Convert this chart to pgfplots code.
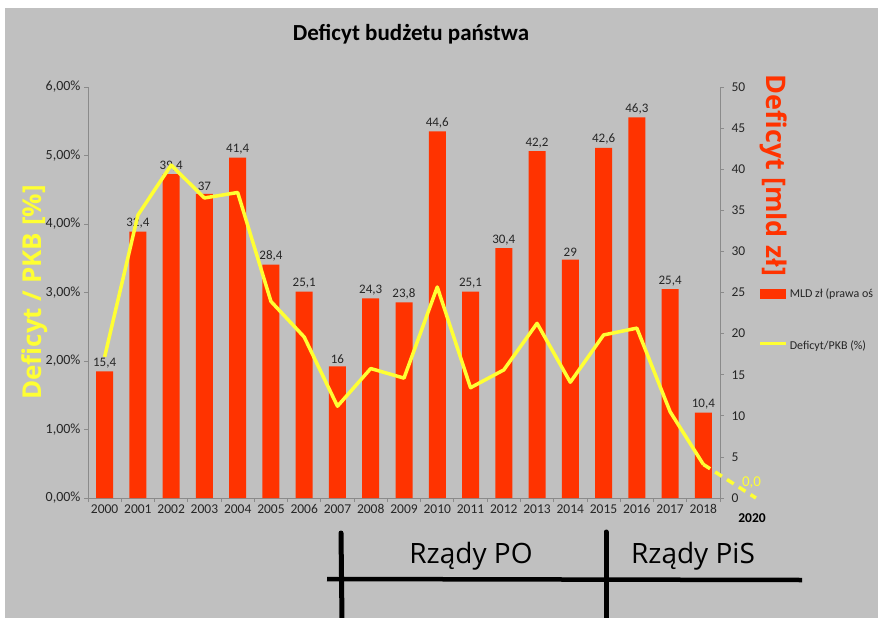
\documentclass[border=0pt]{standalone}
\usepackage{pgfplots}
\pgfplotsset{compat=1.18}
\usepackage{fontspec}
\setmainfont{Carlito}
\newfontfamily\handfont{Open Sans}
\newfontfamily\labfont{Open Sans}
\definecolor{bg}{HTML}{C0C0C0}
\definecolor{barred}{HTML}{FF3300}
\definecolor{lineyel}{HTML}{FFFF33}
\definecolor{axgrey}{HTML}{8A8A8A}
\definecolor{txt}{HTML}{262626}
\begin{document}
\begin{tikzpicture}
\fill[white] (0pt,0pt) rectangle (878pt,-618pt);
\fill[bg] (5pt,-8pt) rectangle (878pt,-618pt);
\useasboundingbox (0pt,0pt) rectangle (878pt,-618pt);

% bars on the right axis
\begin{axis}[
  at={(88pt,-498pt)}, anchor=south west,
  scale only axis, width=632pt, height=411pt,
  xmin=-0.5, xmax=18.5, ymin=0, ymax=50,
  axis y line*=right, axis x line*=bottom,
  axis line style={axgrey, line width=0.8pt},
  ytick={0,5,...,50},
  xtick={0,...,18},
  xticklabels={2000,2001,2002,2003,2004,2005,2006,2007,2008,2009,2010,2011,2012,2013,2014,2015,2016,2017,2018},
  minor xtick={-0.5,0.5,...,18.5},
  tick align=outside,
  major tick length=4pt, minor tick length=4pt,
  xtick style={draw=none},
  minor x tick style={draw=axgrey, line width=0.8pt},
  y tick style={draw=axgrey, line width=0.8pt},
  ticklabel style={font=\fontsize{13.5}{15}\selectfont, text=txt},
  x tick label style={yshift=1pt},
  y tick label style={xshift=4pt},
  /pgf/number format/assume math mode=true,
  /pgf/number format/use comma,
  /pgf/number format/1000 sep={},
  ybar, bar width=17pt,
  ylabel={Deficyt [mld zł]},
  ylabel style={at={(axis description cs:1.085,0.785)}, anchor=center, rotate=180,
    font=\labfont\bfseries\fontsize{27}{30}\selectfont, text=barred},
  title={Deficyt budżetu państwa},
  title style={at={(axis description cs:0.511,1.115)}, anchor=center,
    font=\bfseries\fontsize{23}{27}\selectfont, text=black},
  nodes near coords,
  nodes near coords style={font=\fontsize{13}{15}\selectfont, text=txt, anchor=south, inner sep=3pt},
  clip=false,
]
\addplot[fill=barred, draw=none] coordinates {
(0,15.4) (1,32.4) (2,39.4) (3,37) (4,41.4) (5,28.4) (6,25.1) (7,16) (8,24.3) (9,23.8)
(10,44.6) (11,25.1) (12,30.4) (13,42.2) (14,29) (15,42.6) (16,46.3) (17,25.4) (18,10.4)};
\end{axis}

% line on the left axis
\begin{axis}[
  at={(88pt,-498pt)}, anchor=south west,
  scale only axis, width=632pt, height=411pt,
  xmin=-0.5, xmax=18.5, ymin=0, ymax=6,
  axis y line*=left, axis x line=none,
  axis line style={axgrey, line width=0.8pt},
  ytick={0,1,...,6},
  yticklabels={{0,00\%},{1,00\%},{2,00\%},{3,00\%},{4,00\%},{5,00\%},{6,00\%}},
  tick align=outside, major tick length=4pt,
  y tick style={draw=axgrey, line width=0.8pt},
  ticklabel style={font=\fontsize{14}{16}\selectfont, text=txt},
  ylabel={Deficyt / PKB [\%]},
  ylabel style={at={(axis description cs:-0.084,0.5)}, anchor=center,
    font=\labfont\bfseries\fontsize{26}{30}\selectfont, text=lineyel},
  clip=false,
  legend style={at={(axis description cs:1.061,0.515)}, anchor=north west,
    draw=none, fill=none, font=\fontsize{12}{14}\selectfont, text=txt,
    row sep=38pt, inner sep=0pt, cells={anchor=west}},
]
\addlegendimage{legend image code/.code={\fill[barred] (0pt,-4.5pt) rectangle (25pt,4.5pt);}}
\addlegendentry{MLD zł (prawa oś}
\addplot[lineyel, line width=3.5pt, line join=round,
  legend image code/.code={\draw[lineyel, line width=3pt] (0pt,2pt) -- (26pt,2pt);}] coordinates {
(0,2.06) (1,4.13) (2,4.86) (3,4.38) (4,4.46) (5,2.87) (6,2.35) (7,1.34) (8,1.89) (9,1.75)
(10,3.08) (11,1.61) (12,1.87) (13,2.55) (14,1.69) (15,2.38) (16,2.48) (17,1.26) (18,0.49)};
\addlegendentry{Deficyt/PKB (\%)}
\addplot[lineyel, line width=3.5pt, dash pattern=on 8pt off 6pt, forget plot] coordinates {
(18,0.49) (19.58,0)};
\node[text=lineyel, font=\fontsize{15}{17}\selectfont] at (axis cs:19.45,0.22) {0,0};
\end{axis}

\node[font=\bfseries\fontsize{13.5}{15}\selectfont, text=black] at (752pt,-518pt) {2020};

% hand drawn government periods
\draw[line width=5pt, line cap=round] (341pt,-533pt) -- (342pt,-620pt);
\draw[line width=5pt, line cap=round] (606pt,-532pt) -- (606pt,-620pt);
\draw[line width=4.5pt] (327pt,-579pt) -- (802pt,-580pt);
\node[font=\handfont\fontsize{28}{32}\selectfont] at (471pt,-556pt) {Rządy PO};
\node[font=\handfont\fontsize{28}{32}\selectfont] at (693pt,-556pt) {Rządy PiS};
\end{tikzpicture}
\end{document}
